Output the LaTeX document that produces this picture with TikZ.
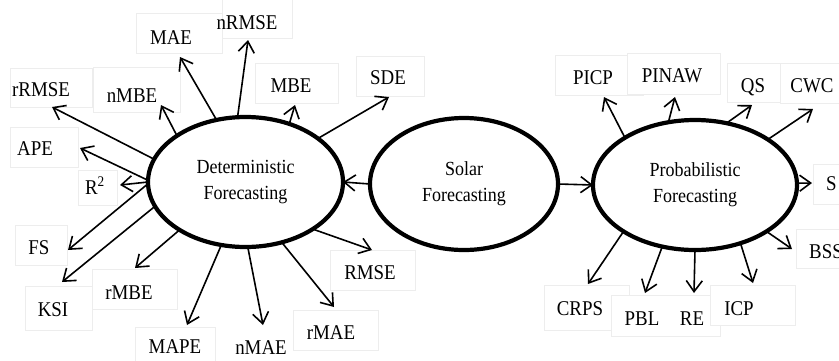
\documentclass[tikz,border=0pt]{standalone}
\usepackage{fontspec}
\setmainfont[FakeStretch=0.9]{Liberation Serif}
\usetikzlibrary{shapes.geometric,arrows.meta}
\begin{document}
\begin{tikzpicture}[x=1pt,y=-1pt,
 lbl/.style={font=\fontsize{21}{25}\selectfont, inner sep=0pt, text height=14pt, text depth=0pt},
 oval/.style={ellipse, draw, line width=4.2pt, inner sep=0pt, outer sep=0pt, font=\fontsize{20}{26}\selectfont, align=center},
 arr/.style={line width=1.6pt, -{Straight Barb[length=11pt,width=16pt]}},
 fbox/.style={draw=black!7, fill=white, line width=0.8pt}]
\clip (0,0) rectangle (839,360);
\fill[white] (0,0) rectangle (839,360);
% faint label boxes
\draw[fbox] (136,13) rectangle (222,53);
\draw[fbox] (222,-5) rectangle (292,38);
\draw[fbox] (10,68) rectangle (92,107);
\draw[fbox] (93,67) rectangle (180,112);
\draw[fbox] (10,127) rectangle (78,167);
\draw[fbox] (78,170) rectangle (117,205);
\draw[fbox] (15,225) rectangle (67,265);
\draw[fbox] (25,286) rectangle (92,330);
\draw[fbox] (92,269) rectangle (177,309);
\draw[fbox] (135,327) rectangle (215,365);
\draw[fbox] (293,310) rectangle (378,350);
\draw[fbox] (330,250) rectangle (415,290);
\draw[fbox] (255,63) rectangle (338,103);
\draw[fbox] (356,56) rectangle (424,96);
\draw[fbox] (555,55) rectangle (643,95);
\draw[fbox] (627,53) rectangle (720,94);
\draw[fbox] (727,63) rectangle (780,102);
\draw[fbox] (780,63) rectangle (850,103);
\draw[fbox] (813,164) rectangle (850,204);
\draw[fbox] (796,229) rectangle (850,268);
\draw[fbox] (544,285) rectangle (629,330);
\draw[fbox] (611,295) rectangle (720,336);
\draw[fbox] (710,285) rectangle (795,325);
% ellipses
\node[oval, minimum width=195pt, minimum height=130pt] (det) at (245.5,182) {Deterministic\\Forecasting};
\node[oval, minimum width=188pt, minimum height=132pt] (sol) at (464,184) {Solar\\Forecasting};
\node[oval, minimum width=204pt, minimum height=130pt] (prob) at (695,185) {Probabilistic\\Forecasting};
% labels
\node[lbl] (lMAE) at (171,37) {MAE};
\node[lbl] (lnRMSE) at (247,22) {nRMSE};
\node[lbl] (lnMBE) at (132,95) {nMBE};
\node[lbl] (lrRMSE) at (41,89) {rRMSE};
\node[lbl] (lAPE) at (35,148) {APE};
\node[lbl] (lR) at (95,187) {R\textsuperscript{2}};
\node[lbl] (lFS) at (39,247) {FS};
\node[lbl] (lKSI) at (53,309) {KSI};
\node[lbl] (lrMBE) at (129,292) {rMBE};
\node[lbl] (lMAPE) at (175,346) {MAPE};
\node[lbl] (lnMAE) at (261,347) {nMAE};
\node[lbl] (lrMAE) at (331,332) {rMAE};
\node[lbl] (lRMSE) at (370,272) {RMSE};
\node[lbl] (lMBE) at (291,85) {MBE};
\node[lbl] (lSDE) at (388,77) {SDE};
\node[lbl] (lPICP) at (593,77) {PICP};
\node[lbl] (lPINAW) at (672,75) {PINAW};
\node[lbl] (lQS) at (753,85) {QS};
\node[lbl] (lCWC) at (812,85) {CWC};
\node[lbl, anchor=west] (lS) at (826,183) {S};
\node[lbl, anchor=west] (lBSS) at (809,251) {BSS};
\node[lbl] (lCRPS) at (580,308) {CRPS};
\node[lbl] (lPBL) at (642,318) {PBL};
\node[lbl] (lRE) at (692,318) {RE};
\node[lbl] (lICP) at (739,308) {ICP};
% arrow tip coordinates
\coordinate (tMAE) at (180,57);
\coordinate (tnRMSE) at (248,40);
\coordinate (tnMBE) at (161,105);
\coordinate (trRMSE) at (52,107);
\coordinate (tAPE) at (80,148);
\coordinate (tR) at (120,185);
\coordinate (tFS) at (68,250);
\coordinate (tKSI) at (62,282);
\coordinate (trMBE) at (135,268);
\coordinate (tMAPE) at (187,325);
\coordinate (tnMAE) at (263,325);
\coordinate (trMAE) at (334,307);
\coordinate (tRMSE) at (372,250);
\coordinate (tMBE) at (295,105);
\coordinate (tSDE) at (389,97);
\coordinate (tPICP) at (604,97);
\coordinate (tPINAW) at (675,97);
\coordinate (tQS) at (752,105);
\coordinate (tCWC) at (813,109);
\coordinate (tS) at (812,183);
\coordinate (tBSS) at (792,249);
\coordinate (tCRPS) at (588,284);
\coordinate (tPBL) at (645,293);
\coordinate (tRE) at (694,293);
\coordinate (tICP) at (753,283);
% deterministic arrows
\draw[arr] (det.115.4) -- (tMAE);
\draw[arr] (det.97.6) -- (tnRMSE);
\draw[arr] (det.146.3) -- (tnMBE);
\draw[arr] (det.166.6) -- (trRMSE);
\draw[arr] (det.179) -- (tAPE);
\draw[arr] (det.180) -- (tR);
\draw[arr] (det.181) -- (tFS);
\draw[arr] (det.195.3) -- (tKSI);
\draw[arr] (det.216.7) -- (trMBE);
\draw[arr] (det.249) -- (tMAPE);
\draw[arr] (det.272) -- (tnMAE);
\draw[arr] (det.301.4) -- (trMAE);
\draw[arr] (det.325.4) -- (tRMSE);
\draw[arr] (det.53.8) -- (tMBE);
\draw[arr] (det.31.5) -- (tSDE);
% probabilistic arrows
\draw[arr] (prob.146.3) -- (tPICP);
\draw[arr] (prob.113.3) -- (tPINAW);
\draw[arr] (prob.63.1) -- (tQS);
\draw[arr] (prob.32.3) -- (tCWC);
\draw[arr] (prob.1) -- (tS);
\draw[arr] (prob.327.4) -- (tBSS);
\draw[arr] (prob.213.3) -- (tCRPS);
\draw[arr] (prob.242.7) -- (tPBL);
\draw[arr] (prob.270) -- (tRE);
\draw[arr] (prob.308.7) -- (tICP);
% central arrows
\draw[arr] (sol.west) -- (det.east);
\draw[arr] (sol.east) -- (prob.west);
\end{tikzpicture}
\end{document}
